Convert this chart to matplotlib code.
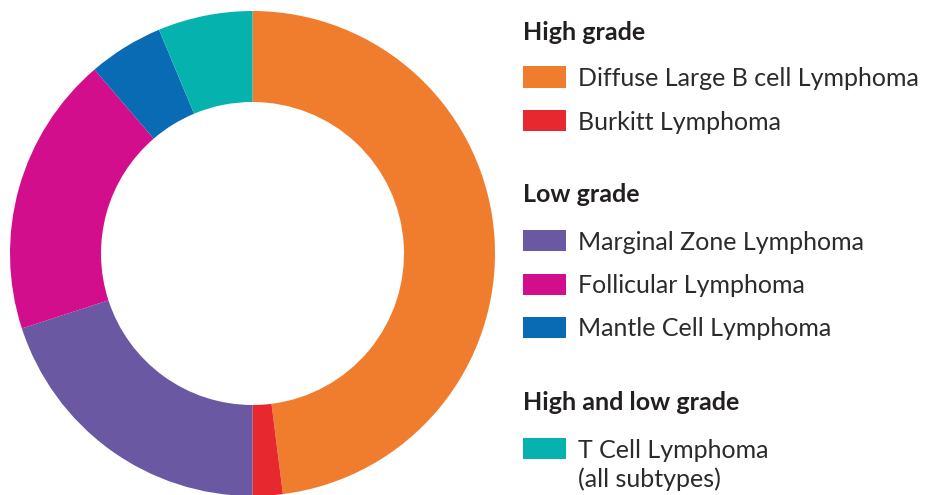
import matplotlib.pyplot as plt
from matplotlib.patches import Rectangle

# slice shares (percent), clockwise from 12 o'clock
labels = ["Diffuse Large B cell Lymphoma", "Burkitt Lymphoma", "Marginal Zone Lymphoma",
          "Follicular Lymphoma", "Mantle Cell Lymphoma", "T Cell Lymphoma"]
shares = [48.0, 2.0, 20.0, 18.7, 5.0, 6.3]
colors = ["#F07D2E", "#E8282F", "#6A58A3", "#D20E8C", "#0A6BB5", "#06B2AE"]

groups = ["High grade", "Low grade", "High and low grade"]
group_members = [[0, 1], [2, 3, 4], [5]]
extra_line = "(all subtypes)"

W, H = 928, 495
fig = plt.figure(figsize=(W / 100, H / 100), dpi=100)
plt.rcParams['font.family'] = ['Lato', 'DejaVu Sans']


def fx(x):
    return x / W


def fy(y):
    return 1 - y / H


# donut: centre (252.5, 253.5) px, radius 242.5 px
cx, cy, r = 252.5, 253.5, 242.5
ax = fig.add_axes([fx(cx - r), fy(cy + r), 2 * r / W, 2 * r / H])
ax.pie(shares, colors=colors, startangle=90, counterclock=False, radius=1,
       wedgeprops=dict(width=1 - 151.5 / 242.5, linewidth=0))
ax.set_xlim(-1, 1)
ax.set_ylim(-1, 1)
ax.axis("off")

# legend drawn by hand
heading_base = [39.5, 201.5, 409.5]
item_base = [[86, 129.5], [249.5, 293, 336], [457.5]]
for g, hb, members, bases in zip(groups, heading_base, group_members, item_base):
    fig.text(fx(523), fy(hb), g, fontsize=18, fontweight="bold", color="#231F20",
             ha="left", va="baseline")
    for i, b in zip(members, bases):
        fig.add_artist(Rectangle((fx(523), fy(b + 1.5)), 43 / W, 21 / H,
                                 transform=fig.transFigure, color=colors[i], lw=0))
        fig.text(fx(578), fy(b), labels[i], fontsize=18, color="#2B2B2B",
                 ha="left", va="baseline")

fig.text(fx(578), fy(487), extra_line, fontsize=18, color="#2B2B2B",
         ha="left", va="baseline")

fig.savefig("out.png", dpi=100)
